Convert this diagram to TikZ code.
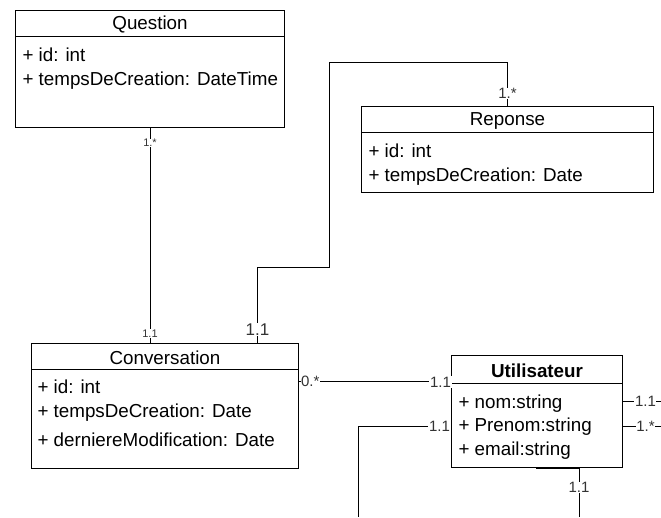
\documentclass[tikz,border=0pt]{standalone}
\usepackage{fontspec}
\setmainfont{Liberation Sans}

\begin{document}
\begin{tikzpicture}[
					x=1pt, y=-1pt,
					line width=1pt,
					classbox/.style={rectangle,draw,anchor=north west,inner sep=0pt},
					title/.style={font=\fontsize{18.8}{22}\selectfont,inner sep=0pt,yshift=-1.5pt},
					attr/.style={font=\fontsize{18.8}{22}\selectfont,anchor=west,inner sep=0pt,yshift=-2pt},
					mult/.style={font=\fontsize{15}{17}\selectfont,text=black!80,fill=white,inner sep=0.6pt},
					smallmult/.style={mult,font=\fontsize{11}{13}\selectfont},
					bigmult/.style={mult,font=\fontsize{17}{19}\selectfont},
					]
					\useasboundingbox (0,0) rectangle (661,517);
					\node [classbox,minimum width=269,minimum height=117] (question) at (15,10) {};
					\draw ([yshift=-26pt]question.north west) -- ([yshift=-26pt]question.north east);
					\node [title] (questiontitle) at ([yshift=-13pt]question.north) {Question};
					\node [attr] (questionid) at (22,53) {+ id: int};
					\node [attr] (questiontemps) at (22,79) {+ tempsDeCreation: DateTime};

					\node [classbox,minimum width=292,minimum height=86] (reponse) at (361,106) {};
					\draw ([yshift=-26pt]reponse.north west) -- ([yshift=-26pt]reponse.north east);
					\node [title] (reponsetitle) at ([yshift=-13pt]reponse.north) {Reponse};
					\node [attr] (reponseid) at (368,149) {+ id: int};
					\node [attr] (reponsetemps) at (368,175) {+ tempsDeCreation: Date};

					\node [classbox,minimum width=267,minimum height=125] (conversation) at (31,343) {};
					\draw ([yshift=-26pt]conversation.north west) -- ([yshift=-26pt]conversation.north east);
					\node [title] (conversationtitle) at ([yshift=-13pt]conversation.north) {Conversation};
					\node [attr] (conversationid) at (37,385) {+ id: int};
					\node [attr] (conversationtemps) at (37,411) {+ tempsDeCreation: Date};
					\node [attr] (conversationmodif) at (37,438) {+ derniereModification: Date};

					\node [classbox,minimum width=171,minimum height=112] (utilisateur) at (451,355) {};
					\draw ([yshift=-28pt]utilisateur.north west) -- ([yshift=-28pt]utilisateur.north east);
					\node [title,font=\fontsize{18.8}{22}\selectfont\bfseries] (utilisateurtitle) at ([yshift=-14pt]utilisateur.north) {Utilisateur};
					\node [attr] (unom) at (458,402) {+ nom:string};
					\node [attr] (uprenom) at (458,425) {+ Prenom:string};
					\node [attr] (uemail) at (458,449) {+ email:string};

					\coordinate (offright1) at (661,401);
					\coordinate (offright2) at (661,426);
					\coordinate (offleft) at (358,517);
					\coordinate (offbottom) at (579,517);
					\coordinate (uconv) at ([yshift=-26pt]utilisateur.north west);

					\draw (question.south) -- node [smallmult,pos=0.07] {1.*} node [smallmult,pos=0.955] {1.1} (question.south |- conversation.north);
					\draw ([xshift=92.5pt]conversation.north) -- node [bigmult,pos=0.18] {1.1} ++(0,-76) -| (329,62) -| node [mult,pos=0.86] {1.*} (reponse.north);
					\draw (uconv) -- (uconv -| conversation.east);
					\node [mult,anchor=east] (mconvu) at ([xshift=1pt,yshift=-1pt]uconv) {1.1};
					\node [mult,anchor=west] (mconvc) at ([xshift=1pt]uconv -| conversation.east) {0.*};
					\draw (utilisateur.west |- offright2) -| (offleft);
					\node [mult,anchor=east] (mleft) at ([xshift=0pt]utilisateur.west |- offright2) {1.1};
					\draw (utilisateur.east |- offright1) -- node [mult,pos=0.59] {1.1} (offright1);
					\draw (utilisateur.east |- offright2) -- node [mult,pos=0.59] {1.*} (offright2);
					\draw [line width=2pt] ([xshift=-1.5pt]utilisateur.south) -- (offbottom |- utilisateur.south);
					\draw (offbottom |- utilisateur.south) -- node [mult,pos=0.4] {1.1} (offbottom);
				\end{tikzpicture}
\end{document}
